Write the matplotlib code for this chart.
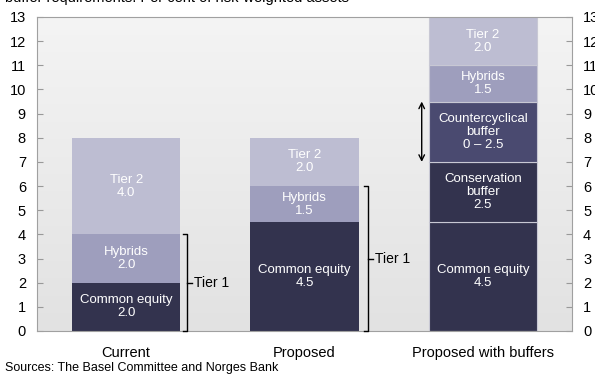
import matplotlib
matplotlib.use("Agg")
import matplotlib.pyplot as plt
import numpy as np
from matplotlib.colors import LinearSegmentedColormap

plt.rcParams["font.family"] = ["Liberation Sans", "DejaVu Sans"]

categories = ["Current", "Proposed", "Proposed with buffers"]
segment_labels = [
    ["Common equity\n2.0", None, None, "Hybrids\n2.0", "Tier 2\n4.0"],
    ["Common equity\n4.5", None, None, "Hybrids\n1.5", "Tier 2\n2.0"],
    ["Common equity\n4.5", "Conservation\nbuffer\n2.5", "Countercyclical\nbuffer\n0 – 2.5", "Hybrids\n1.5", "Tier 2\n2.0"],
]
common_equity = [2.0, 4.5, 4.5]
conservation = [0.0, 0.0, 2.5]
countercyclical = [0.0, 0.0, 2.5]
hybrids = [2.0, 1.5, 1.5]
tier2 = [4.0, 2.0, 2.0]
yticks = list(range(0, 14))

colors = ["#33334e", "#33334e", "#4a4a70", "#9e9ebd", "#bdbdd2"]
series = [common_equity, conservation, countercyclical, hybrids, tier2]

fig = plt.figure(figsize=(5.95, 3.74), dpi=100)
ax = fig.add_axes([37/595, 1-331/374, (572-37)/595, (331-17)/374])

x = np.arange(len(categories))
width = 0.607
ax.set_xlim(-0.5, 2.5)
ax.set_ylim(0, 13)

grad = np.linspace(0, 1, 256).reshape(-1, 1)
cmap = LinearSegmentedColormap.from_list("bg", ["#e2e2e2", "#f4f4f4"])
ax.imshow(grad, extent=[-0.5, 2.5, 0, 13], origin="lower", aspect="auto", cmap=cmap, zorder=0)

bottom = np.zeros(len(categories))
for si, (vals, col) in enumerate(zip(series, colors)):
    vals = np.array(vals)
    for i in range(len(categories)):
        if vals[i] <= 0:
            continue
        ec = "#c8c8d4" if i == 2 else col
        lw = 0.8 if i == 2 else 0
        ax.bar(x[i], vals[i], width, bottom=bottom[i], color=col, edgecolor=ec, linewidth=lw, zorder=2)
        lab = segment_labels[i][si]
        if lab:
            ax.text(x[i], bottom[i] + vals[i] / 2, lab, ha="center", va="center",
                    color="white", fontsize=9.5, linespacing=1.1, zorder=3)
    bottom += vals

px = 3 / 535
for i, off in [(0, 7), (1, 9)]:
    top = common_equity[i] + hybrids[i]
    bx = x[i] + width / 2 + off * px
    ax.plot([bx - 4 * px, bx, bx, bx - 4 * px], [top, top, 0, 0], color="black", lw=1, zorder=4, clip_on=False)
    ax.plot([bx, bx + 5 * px], [top / 2, top / 2], color="black", lw=1, zorder=4)
    ax.text(bx + 7 * px, top / 2, "Tier 1", ha="left", va="center", fontsize=10)

y0 = common_equity[2] + conservation[2]
y1 = y0 + countercyclical[2]
ax_x = x[2] - width / 2 - 7 * px
ax.annotate("", xy=(ax_x, y1), xytext=(ax_x, y0),
            arrowprops=dict(arrowstyle="<->", color="black", lw=1, shrinkA=0, shrinkB=0), zorder=4)

ax.set_yticks(yticks)
ax.set_yticklabels([str(t) for t in yticks], fontsize=10.5)
ax.tick_params(axis="y", which="both", direction="in", length=4, color="#999999",
               left=True, right=True, labelleft=True, labelright=True, pad=8)
ax.set_xticks(x)
ax.set_xticklabels(categories, fontsize=10.5)
ax.tick_params(axis="x", length=0, pad=11)
for s in ax.spines.values():
    s.set_color("#a0a0a0")
    s.set_linewidth(0.8)

fig.text(5/595, 1 - 2/374, "buffer requirements. Per cent of risk-weighted assets",
         ha="left", va="baseline", fontsize=10.5)
fig.text(5/595, 1 - 371/374, "Sources: The Basel Committee and Norges Bank",
         ha="left", va="baseline", fontsize=9)

fig.savefig("out.png", dpi=100)
